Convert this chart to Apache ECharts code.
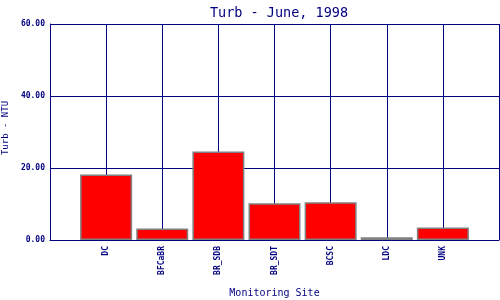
<!DOCTYPE html>
<html>
<head>
<meta charset="utf-8">
<script src="https://cdn.jsdelivr.net/npm/echarts@6/dist/echarts.min.js"></script>
<style>html,body{margin:0;padding:0;background:#fff}#c{width:500px;height:300px}</style>
</head>
<body>
<div id="c"></div>
<script>
const categories = ['DC', 'BFCaBR', 'BR_SDB', 'BR_SDT', 'BCSC', 'LDC', 'UNK'];
const turb = [18.2, 3.2, 24.6, 10.2, 10.5, 0.75, 3.5];
const yTicks = [0, 20, 40, 60];

const navy = '#000080';
const mono = '"DejaVu Sans Mono", monospace';
const xCats = [''].concat(categories, ['']);
const yData = ['-'].concat(turb, ['-']);

const chart = echarts.init(document.getElementById('c'), null, {renderer: 'canvas'});
chart.setOption({
  animation: false,
  title: {
    text: 'Turb - June, 1998',
    left: 274, top: 1, textAlign: 'center',
    textStyle: {color: navy, fontFamily: mono, fontSize: 13.5, fontWeight: 'normal'}
  },
  grid: {left: 50, right: 1, top: 24, bottom: 60, containLabel: false, outerBoundsMode: 'none'},
  xAxis: {
    type: 'category', data: xCats, boundaryGap: false,
    name: 'Monitoring Site', nameLocation: 'middle', nameGap: 48,
    nameTextStyle: {color: navy, fontFamily: mono, fontSize: 10},
    axisLine: {show: true, lineStyle: {color: navy, width: 1}},
    axisTick: {show: false},
    axisLabel: {rotate: 90, color: navy, fontFamily: mono, fontSize: 8, fontWeight: 'bold', margin: 6, interval: 0},
    splitLine: {show: true, interval: 0, lineStyle: {color: navy, width: 1}}
  },
  yAxis: {
    type: 'value', min: yTicks[0], max: yTicks[yTicks.length - 1], interval: 20,
    name: 'Turb - NTU', nameLocation: 'middle', nameGap: 37,
    nameTextStyle: {color: navy, fontFamily: mono, fontSize: 9, padding: [0, 0, 0, 8]},
    axisLine: {show: true, lineStyle: {color: navy, width: 1}},
    axisTick: {show: false},
    axisLabel: {color: navy, fontFamily: mono, fontSize: 8, fontWeight: 'bold', margin: 5,
      formatter: v => v.toFixed(2)},
    splitLine: {show: true, lineStyle: {color: navy, width: 1}}
  },
  series: [{
    type: 'bar', data: yData, barWidth: 52,
    itemStyle: {color: '#ff0000', borderColor: '#808080', borderWidth: 1.5}
  }]
});
</script>
</body>
</html>
